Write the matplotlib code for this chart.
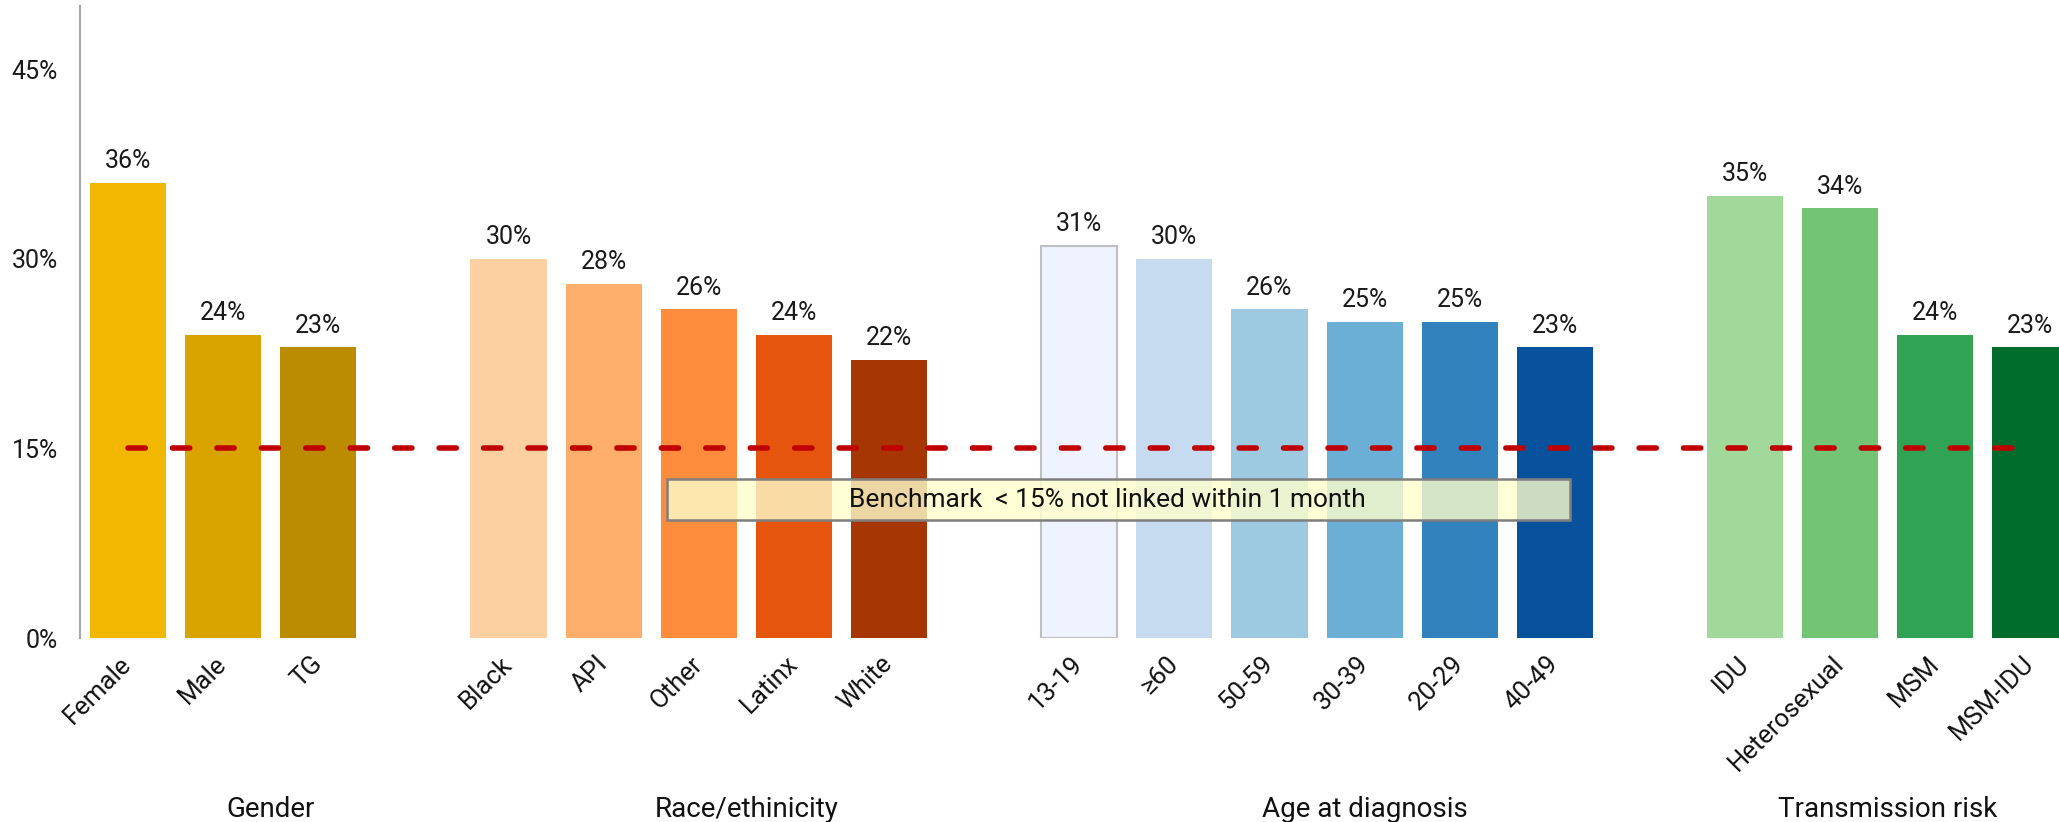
import matplotlib
matplotlib.use('Agg')
import matplotlib.pyplot as plt
from matplotlib.patches import Rectangle
from matplotlib.transforms import blended_transform_factory

# percent not linked to care within 1 month, by group
gender_labels = ['Female', 'Male', 'TG']
gender_values = [36, 24, 23]
race_labels = ['Black', 'API', 'Other', 'Latinx', 'White']
race_values = [30, 28, 26, 24, 22]
age_labels = ['13-19', '≥60', '50-59', '30-39', '20-29', '40-49']
age_values = [31, 30, 26, 25, 25, 23]
risk_labels = ['IDU', 'Heterosexual', 'MSM', 'MSM-IDU']
risk_values = [35, 34, 24, 23]

group_names = ['Gender', 'Race/ethinicity', 'Age at diagnosis', 'Transmission risk']
benchmark = 15
benchmark_text = 'Benchmark  < 15% not linked within 1 month'

gender_colors = ['#F2B700', '#D9A300', '#BB8C00']
race_colors = ['#FDD0A2', '#FDAE6B', '#FD8D3C', '#E6550D', '#A63603']
age_colors = ['#EFF3FF', '#C6DBEF', '#9ECAE1', '#6BAED6', '#3182BD', '#08519C']
risk_colors = ['#A1D99B', '#74C476', '#31A354', '#006D2C']

groups = [
    (gender_labels, gender_values, gender_colors),
    (race_labels, race_values, race_colors),
    (age_labels, age_values, age_colors),
    (risk_labels, risk_values, risk_colors),
]

plt.rcParams['font.family'] = ['Roboto', 'DejaVu Sans']

fig = plt.figure(figsize=(20.59, 8.22), dpi=100)
ax = fig.add_axes([80 / 2059, 184 / 822, 1 - 80 / 2059, 632 / 822])

# one empty slot between groups
x = []
labels = []
group_centres = []
slot = 0
for gi, (labs, vals, cols) in enumerate(groups):
    start = slot
    xs = list(range(slot, slot + len(vals)))
    bars = ax.bar(xs, vals, width=0.8, color=cols, zorder=2)
    if gi == 2:
        bars[0].set_edgecolor('#BFBFBF')
        bars[0].set_linewidth(1.5)
    for b, v in zip(bars, vals):
        ax.annotate(f'{v}%', (b.get_x() + b.get_width() / 2, v),
                    xytext=(0, 7), textcoords='offset points',
                    ha='center', va='bottom', fontsize=18, color='#1a1a1a')
    x += xs
    labels += labs
    slot += len(vals)
    end = slot if gi < len(groups) - 1 else slot - 1
    group_centres.append((start + end) / 2)
    slot += 1

ax.plot([x[0], x[-1]], [benchmark, benchmark], color='#C00000', lw=4,
        dashes=(3.1, 4.9), solid_capstyle='round', dash_capstyle='round', zorder=3)

ax.add_patch(Rectangle((5.67, 9.3), 9.49, 3.3, facecolor='#FFFFCC', alpha=0.8,
                       edgecolor='none', zorder=4))
ax.add_patch(Rectangle((5.67, 9.3), 9.49, 3.3, facecolor='none',
                       edgecolor='#7F7F7F', lw=1.8, zorder=4))
ax.text(10.3, 10.95, benchmark_text, ha='center', va='center', fontsize=19,
        color='#111111', zorder=5)

ax.set_xlim(-0.505, 20.3)
ax.set_ylim(0, 50)
ax.set_yticks([0, 15, 30, 45])
ax.set_yticklabels(['0%', '15%', '30%', '45%'])
ax.set_xticks(x)
ax.set_xticklabels(labels, rotation=45, ha='right', va='center',
                   rotation_mode='anchor', fontsize=18.5)
ax.tick_params(axis='y', length=0, pad=16, labelsize=18, labelcolor='#1a1a1a')
ax.tick_params(axis='x', length=0, pad=16, labelcolor='#111111')

for s in ['top', 'right', 'bottom']:
    ax.spines[s].set_visible(False)
ax.spines['left'].set_color('#A6A6A6')
ax.spines['left'].set_linewidth(1.5)

trans = blended_transform_factory(ax.transData, fig.transFigure)
for name, cx in zip(group_names, group_centres):
    ax.text(cx, 0.006, name, transform=trans, ha='center', va='baseline',
            fontsize=20, color='#111111')

fig.savefig('out.png', dpi=100)
